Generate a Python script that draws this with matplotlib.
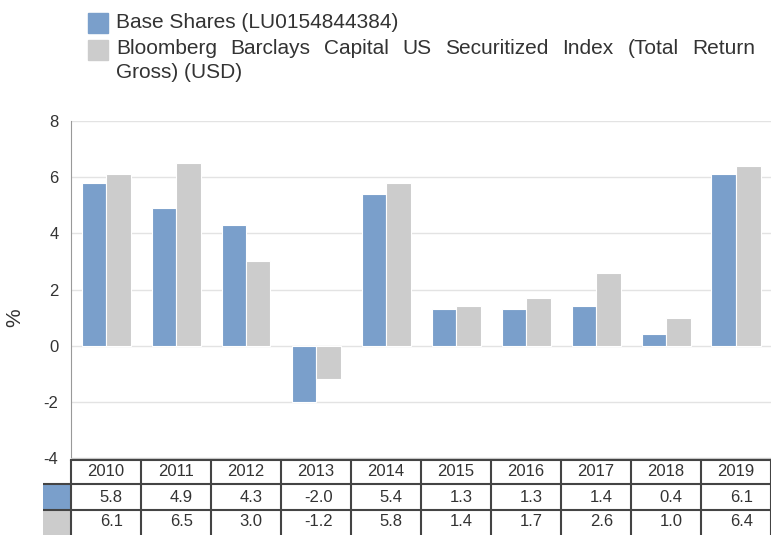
import matplotlib.pyplot as plt
from matplotlib.patches import Rectangle
import numpy as np

plt.rcParams['font.family'] = ['Liberation Sans', 'DejaVu Sans']

years = ['2010', '2011', '2012', '2013', '2014', '2015', '2016', '2017', '2018', '2019']
base_shares = [5.8, 4.9, 4.3, -2.0, 5.4, 1.3, 1.3, 1.4, 0.4, 6.1]
index_tr = [6.1, 6.5, 3.0, -1.2, 5.8, 1.4, 1.7, 2.6, 1.0, 6.4]
series_names = ['Base Shares (LU0154844384)',
                'Bloomberg Barclays Capital US Securitized Index (Total Return Gross) (USD)']
yticks = [-4, -2, 0, 2, 4, 6, 8]

blue = '#7a9fcb'
grey = '#cccccc'
text_col = '#333333'

W, H = 771, 535
fig = plt.figure(figsize=(W / 100, H / 100), dpi=100)

def fx(px):
    return px / W

def fy(py):
    return 1 - py / H

# main bar axes
ax = fig.add_axes([fx(71), fy(458), fx(771) - fx(71), fy(121) - fy(458)])
x = np.arange(len(years))
bw = 0.35
ax.bar(x - 0.175, base_shares, bw, color=blue, edgecolor='white', linewidth=0.8, zorder=3)
ax.bar(x + 0.175, index_tr, bw, color=grey, edgecolor='white', linewidth=0.8, zorder=3)
ax.set_xlim(-0.5, len(years) - 0.5)
ax.set_ylim(-4, 8)
ax.set_yticks(yticks)
ax.set_yticklabels([str(v) for v in yticks], fontsize=12, color=text_col)
ax.tick_params(axis='y', length=0, pad=9)
ax.set_xticks([])
ax.grid(axis='y', color='#e3e3e3', linewidth=1, zorder=0)
for s in ['top', 'right']:
    ax.spines[s].set_visible(False)
ax.spines['left'].set_color('#999999')
ax.spines['bottom'].set_color('#cccccc')
fig.text(fx(15), fy(318), '%', rotation=90, fontsize=15, color=text_col,
         ha='center', va='center')

# data table under the chart
tab = fig.add_axes([fx(43), 0, 1 - fx(43), fy(460)])
tab.set_xlim(-0.9, len(years) - 0.5)
tab.set_ylim(535, 460)
tab.axis('off')
rows = [460, 484, 510, 536]
edge = '#444444'
# swatch cells
tab.add_patch(Rectangle((-0.9, rows[1]), 0.4, rows[2] - rows[1], color=blue, lw=0))
tab.add_patch(Rectangle((-0.9, rows[2]), 0.4, rows[3] - rows[2], color=grey, lw=0))
tab.plot([-0.5, len(years) - 0.5], [rows[0], rows[0]], color=edge, lw=1.5, clip_on=False)
for r in rows[1:3]:
    tab.plot([-0.9, len(years) - 0.5], [r, r], color=edge, lw=1.5)
for i in range(len(years) + 1):
    xi = i - 0.5
    tab.plot([xi, xi], [rows[0], rows[3]], color=edge, lw=1.5)
for i, yr in enumerate(years):
    tab.text(i, (rows[0] + rows[1]) / 2, yr, ha='center', va='center',
             fontsize=12, color=text_col)
    tab.text(i + 0.24, (rows[1] + rows[2]) / 2, f'{base_shares[i]:.1f}', ha='right',
             va='center', fontsize=12, color=text_col)
    tab.text(i + 0.24, (rows[2] + rows[3]) / 2 - 1, f'{index_tr[i]:.1f}', ha='right',
             va='center', fontsize=12, color=text_col)

# legend
fig.patches.append(Rectangle((fx(88), fy(33)), fx(20), fy(13) - fy(33), color=blue,
                             transform=fig.transFigure, figure=fig))
fig.patches.append(Rectangle((fx(88), fy(60)), fx(20), fy(40) - fy(60), color=grey,
                             transform=fig.transFigure, figure=fig))
fig.text(fx(116), fy(23), series_names[0], fontsize=15, color=text_col, va='center')

# second entry wraps over two lines, first line justified
words = series_names[1].split()
line1, line2 = words[:8], words[8:]
renderer = fig.canvas.get_renderer()
objs = [fig.text(0, fy(49), w, fontsize=15, color=text_col, va='center') for w in line1]
widths = [o.get_window_extent(renderer).width for o in objs]
gap = (755 - 116 - sum(widths)) / (len(objs) - 1)
pos = 116
for o, w in zip(objs, widths):
    o.set_x(fx(pos))
    pos += w + gap
fig.text(fx(116), fy(73), ' '.join(line2), fontsize=15, color=text_col, va='center')

fig.savefig('out.png', dpi=100)
